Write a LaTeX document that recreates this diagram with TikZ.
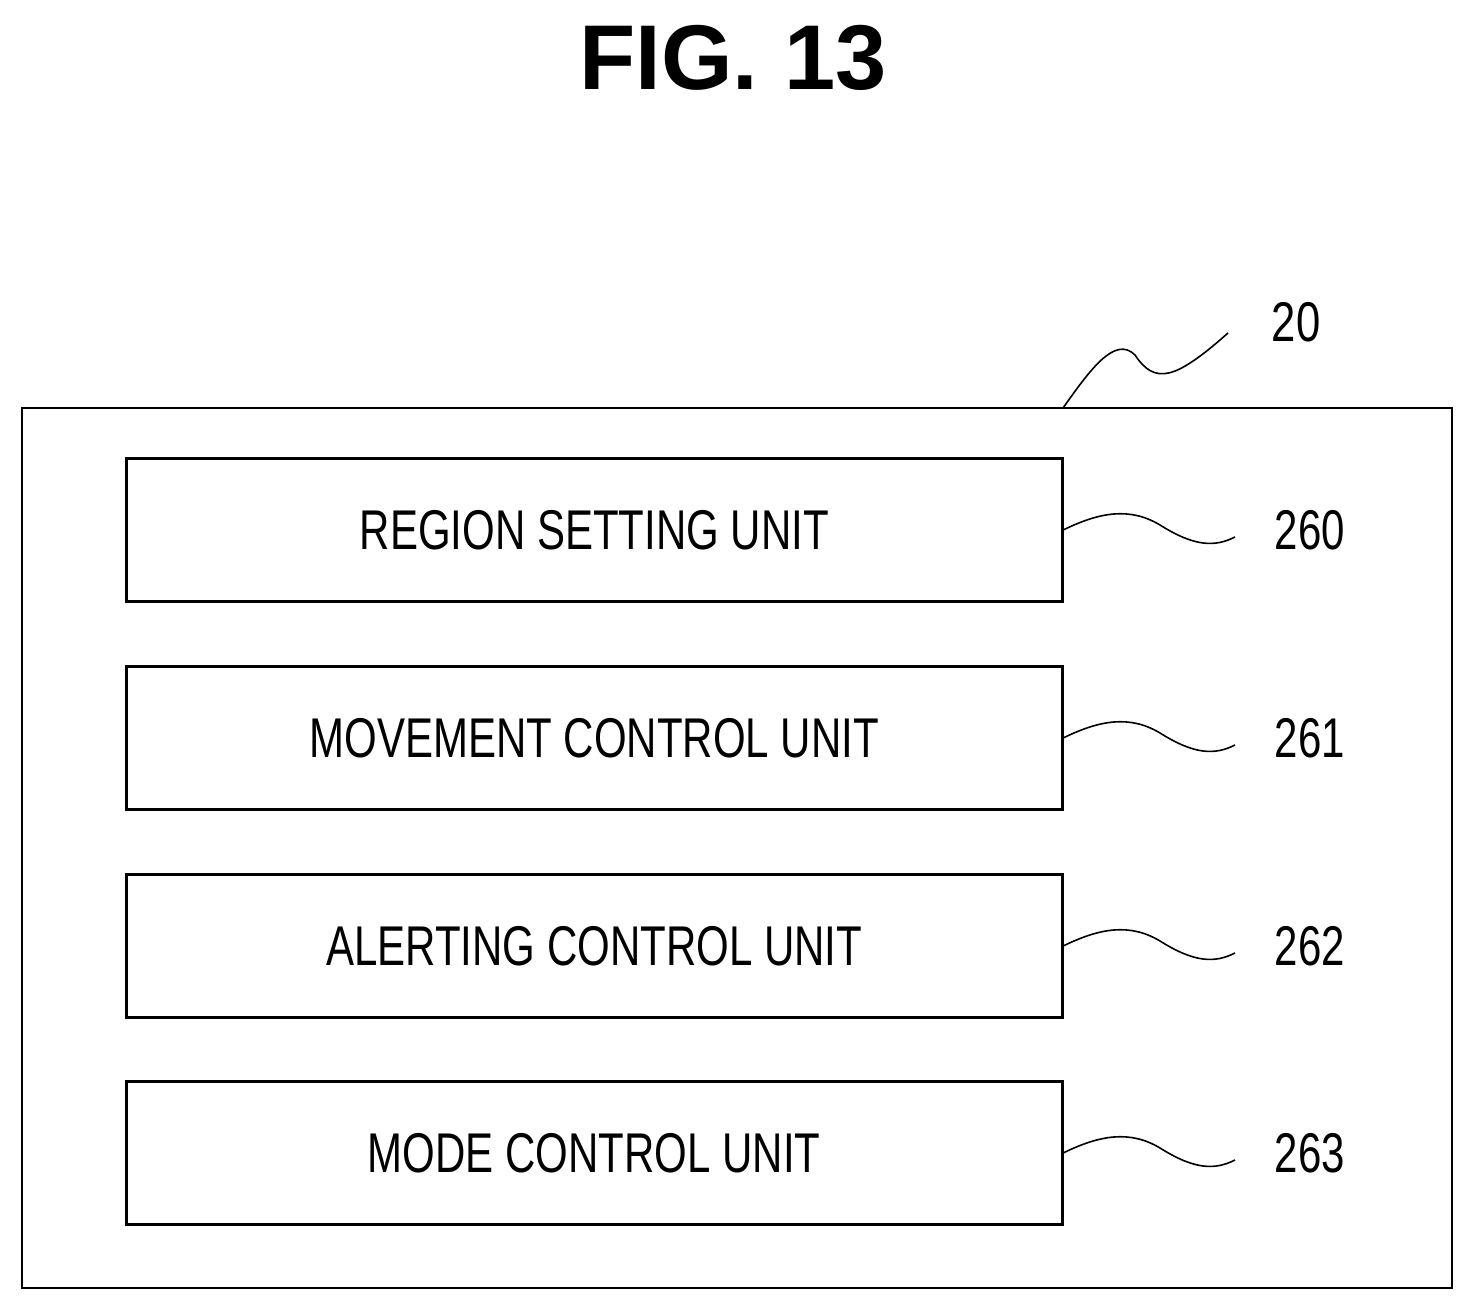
\documentclass[tikz,border=0pt]{standalone}
\usepackage{fontspec}
\setmainfont{Liberation Sans}
\usepackage{graphicx}
\begin{document}
\begin{tikzpicture}[x=0.5pt,y=-0.5pt,
  box/.style={draw,line width=1.3pt},
  lbl/.style={font=\fontsize{28}{30}\selectfont},
  lead/.style={line width=0.8pt}]
\useasboundingbox (0,0) rectangle (1474,1311);
\node[font=\fontsize{46}{50}\selectfont\bfseries] (title) at (733,58) {FIG. 13};
\draw[box] (22,408) rectangle (1452,1288);
\coordinate (outer) at (1063,408);
\node[lbl,anchor=center] (n20) at (1296,322) {\scalebox{0.78}[1]{20}};
\draw[lead] (outer) .. controls (1090,370) and (1115,335) .. (1135,355) .. controls (1155,385) and (1175,380) .. (1228,333);
\foreach \y/\t/\n in {457/REGION SETTING UNIT/260, 665/MOVEMENT CONTROL UNIT/261, 873/ALERTING CONTROL UNIT/262, 1080/MODE CONTROL UNIT/263}{
  \node[box,minimum width=468pt,minimum height=71.5pt,anchor=north west,inner sep=0,lbl] (b\n) at (125,\y) {\scalebox{0.75}[1]{\t}};
  \node[lbl] (l\n) at (1310,\y+73) {\scalebox{0.75}[1]{\n}};
  \draw[lead] (b\n.east) .. controls (1100,\y+55) and (1130,\y+50) .. (1160,\y+68) .. controls (1195,\y+90) and (1215,\y+90) .. (1235,\y+80);
}
\end{tikzpicture}
\end{document}
